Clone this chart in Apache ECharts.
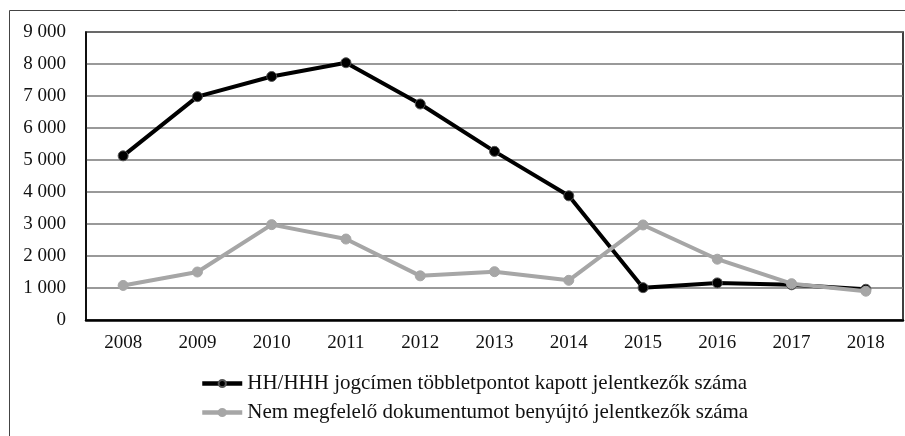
<!DOCTYPE html>
<html>
<head>
<meta charset="utf-8">
<script src="https://cdn.jsdelivr.net/npm/echarts@6/dist/echarts.min.js"></script>
<style>html,body{margin:0;padding:0;background:#fff}#c{width:905px;height:436px}</style>
</head>
<body>
<div id="c"></div>
<script>
const years = ['2008','2009','2010','2011','2012','2013','2014','2015','2016','2017','2018'];
const seriesNames = ['HH/HHH jogcímen többletpontot kapott jelentkezők száma', 'Nem megfelelő dokumentumot benyújtó jelentkezők száma'];
const hhValues = [5130, 6980, 7610, 8040, 6750, 5270, 3880, 1010, 1160, 1100, 960];
const docValues = [1080, 1500, 2980, 2530, 1380, 1510, 1240, 2970, 1900, 1135, 900];
const yTicks = [0, 1000, 2000, 3000, 4000, 5000, 6000, 7000, 8000, 9000];

const FONT = '"Liberation Serif", "DejaVu Serif", serif';
const chart = echarts.init(document.getElementById('c'));
function fmt(v){ return String(v).replace(/\B(?=(\d{3})+(?!\d))/g, ' '); }
chart.setOption({
  animation: false,
  textStyle: { fontFamily: FONT },
  graphic: [{
    type: 'rect', silent: true,
    shape: { x: 9.5, y: 10.5, width: 1000, height: 1000 },
    style: { fill: 'none', stroke: '#444', lineWidth: 1 }
  }],
  grid: { left: 86, top: 32, right: 2, bottom: 116, show: true, borderColor: '#000', borderWidth: 1.5, backgroundColor: 'transparent' },
  legend: {
    orient: 'vertical', left: 195, top: 368, itemGap: 8, itemWidth: 40, itemHeight: 9,
    lineStyle: { width: 4.5 },
    textStyle: { fontFamily: FONT, fontSize: 21, color: '#111' },
    data: seriesNames
  },
  xAxis: {
    type: 'category', data: years, boundaryGap: true,
    axisLine: { lineStyle: { color: '#000', width: 2.5 } },
    axisTick: { show: false },
    axisLabel: { fontFamily: FONT, fontSize: 19, color: '#111', margin: 14 }
  },
  yAxis: {
    type: 'value', min: yTicks[0], max: yTicks[yTicks.length-1], interval: 1000,
    axisLine: { show: true, lineStyle: { color: '#000', width: 1.5 } },
    axisTick: { show: false },
    splitLine: { lineStyle: { color: '#777', width: 1.5 } },
    axisLabel: { fontFamily: FONT, fontSize: 19, color: '#111', margin: 20, formatter: fmt }
  },
  series: [
    {
      name: seriesNames[0], type: 'line', data: hhValues,
      symbol: 'circle', symbolSize: 10, z: 3,
      lineStyle: { color: '#000', width: 4 },
      itemStyle: { color: '#000', borderColor: '#555', borderWidth: 1 }
    },
    {
      name: seriesNames[1], type: 'line', data: docValues,
      symbol: 'circle', symbolSize: 10, z: 4,
      lineStyle: { color: '#a6a6a6', width: 4 },
      itemStyle: { color: '#a6a6a6', borderColor: '#a6a6a6', borderWidth: 1 }
    }
  ]
});
</script>
</body>
</html>
